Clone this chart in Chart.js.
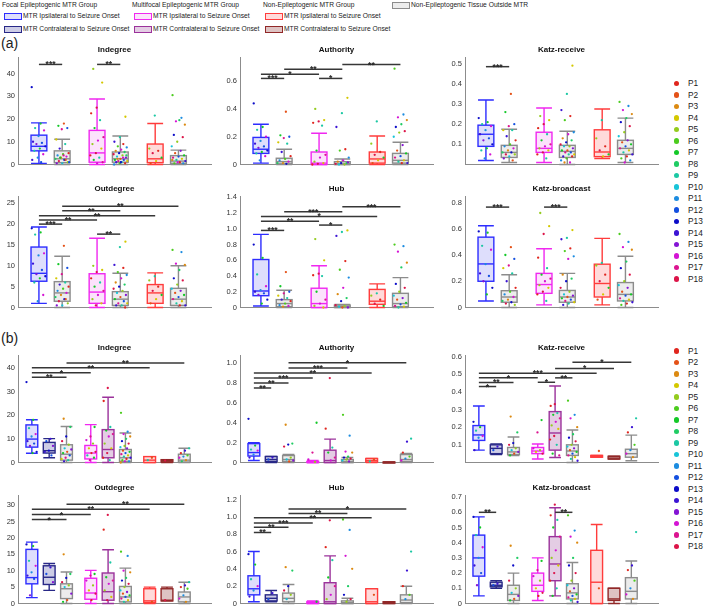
<!DOCTYPE html>
<html>
<head>
<meta charset="utf-8">
<script src="https://cdn.jsdelivr.net/npm/chart.js@4.4.1/dist/chart.umd.min.js"></script>
<style>
body { margin: 0; background: #fff; }
#fig { position: relative; width: 709px; height: 614px; font-family: "Liberation Sans", Arial, sans-serif; color: #222; overflow: hidden; }
.t { position: absolute; white-space: nowrap; font-size: 6.7px; line-height: 8px; }
.sw { position: absolute; width: 16px; height: 5px; border: 1px solid; }
.pl { position: absolute; font-size: 8.3px; line-height: 9px; white-space: nowrap; }
.dot { position: absolute; width: 5.5px; height: 5.5px; border-radius: 50%; }
.lab { position: absolute; font-size: 14px; line-height: 16px; }
canvas { position: absolute; }
</style>
</head>
<body>
<div id="fig">
  <div class="lab" style="left:1px;top:35px">(a)</div>
  <div class="lab" style="left:1px;top:330px">(b)</div>
</div>
<script>
// legend texts
const groupHeads = ['Focal Epileptogenic MTR Group', 'Multifocal Epileptogenic MTR Group', 'Non-Epileptogenic MTR Group'];
const sideLabels = ['MTR Ipsilateral to Seizure Onset', 'MTR Contralateral to Seizure Onset'];
const outsideLabel = 'Non-Epileptogenic Tissue Outside MTR';
const patients = ['P1','P2','P3','P4','P5','P6','P7','P8','P9','P10','P11','P12','P13','P14','P15','P16','P17','P18'];

// box order inside each layout
const aKinds = ['fi', 'out', 'mi', 'out', 'ni', 'out'];
const bKinds = ['fi', 'fc', 'out', 'mi', 'mc', 'out', 'ni', 'nc', 'out'];

// (a) Indegree
const aIndStats = [[0.5,6,8,12.9,18.3],[0,0.8,2.5,6,11.1],[0,1,5.1,15,28.8],[0,1,2.5,5.5,12.5],[0,0.8,2.5,9,18],[0,0.5,1.5,3.9,6.3]];
const aIndPts = [
  [34,18,16,15,12.5,10,9.5,9,8,7,6,4.5,3,2,1],
  [18,17,16,15.5,11,9,7,5,4.5,4,3.5,3,2.5,2,1.5,1,0.5,0.5,2,3,1,4],
  [42,36,25,22.5,19.5,16,12,10.5,9,7,5,4,3,2,1,0.5],
  [21,12,10,9,8,7.5,6.5,6,5.5,5,4.5,4,3.5,3,2.5,2,2,1.5,1.5,1,1,0.5,0.5,0,3,2.5,4,1],
  [21.5,7,6,5,3,1.5,0.5],
  [30.5,20.5,19,17.5,19.5,13,12,10,8,6,5,4,3.5,3,2.5,2,1.5,1,0.5,0.5,1,2]
];
const aIndSig = [[0,1,44,'***'],[2,3,44,'**']];

// (a) Authority
const aAutStats = [[0.01,0.08,0.11,0.195,0.29],[0,0.005,0.02,0.045,0.11],[0,0,0.01,0.09,0.225],[0,0,0.005,0.02,0.04],[0,0.01,0.04,0.09,0.205],[0,0.01,0.03,0.08,0.16]];
const aAutPts = [
  [0.44,0.27,0.25,0.2,0.17,0.15,0.13,0.12,0.1,0.09,0.08,0.06,0.03],
  [0.38,0.21,0.2,0.19,0.16,0.15,0.09,0.06,0.04,0.03,0.02,0.01,0.01,0.005],
  [0.4,0.32,0.31,0.3,0.28,0.1,0.07,0.05,0.02,0.01,0.005,0],
  [0.48,0.37,0.27,0.11,0.1,0.05,0.03,0.02,0.01,0.01,0.005,0,0,0.015],
  [0.31,0.15,0.09,0.07,0.05,0.03,0.01],
  [0.69,0.36,0.34,0.32,0.29,0.27,0.24,0.23,0.2,0.14,0.1,0.08,0.06,0.05,0.03,0.02,0.01,0.01]
];
const aAutSig = [[0,1,0.62,'***'],[0,2,0.65,'*'],[1,3,0.686,'**'],[2,3,0.62,'*'],[3,5,0.72,'**']];

// (a) Katz-receive
const aKrStats = [[0.02,0.09,0.15,0.195,0.32],[0.01,0.035,0.06,0.095,0.175],[0.01,0.06,0.08,0.16,0.28],[0,0.035,0.065,0.095,0.165],[0.03,0.039,0.062,0.172,0.275],[0.01,0.05,0.08,0.12,0.23]];
const aKrPts = [
  [0.23,0.21,0.2,0.19,0.17,0.15,0.13,0.12,0.1,0.08,0.07,0.05,0.03],
  [0.35,0.26,0.2,0.19,0.17,0.17,0.14,0.12,0.1,0.09,0.08,0.07,0.06,0.06,0.05,0.05,0.04,0.03,0.02],
  [0.24,0.22,0.2,0.18,0.15,0.12,0.1,0.09,0.08,0.07,0.06,0.05,0.03],
  [0.49,0.35,0.27,0.24,0.22,0.16,0.15,0.13,0.12,0.11,0.1,0.09,0.09,0.08,0.07,0.07,0.06,0.06,0.05,0.05,0.04,0.04,0.03,0.02,0.01,0.01],
  [0.22,0.13,0.09,0.07,0.05,0.04],
  [0.31,0.29,0.27,0.25,0.23,0.21,0.19,0.16,0.14,0.12,0.11,0.1,0.09,0.08,0.07,0.06,0.05,0.04,0.03,0.02,0.01]
];
const aKrSig = [[0,1,0.485,'***']];

// (a) Outdegree
const aOutStats = [[1,6.3,8.2,14.5,19.3],[0,1.5,3.5,6.2,12.3],[0,1,3.7,8.1,16.6],[0,0.5,2,3.8,8.2],[0,1,3.5,5.5,8.3],[0,0.5,2,4.6,10]];
const aOutPts = [
  [19,18,17.5,13,12.5,10.5,9,8,7.5,7,6,3,1.5],
  [14.8,10.4,9.5,8,7,6,5.5,5,4.5,4,3.5,3,2.5,2,1.5,1,0.5,0.5,2],
  [10,9,8.5,7,6,5,4,3,2,1,0.5],
  [15.8,14.5,10.2,9.5,8.5,7.8,7,6,5.5,5,4.5,4,3.5,3,2.5,2,1.5,1,1,0.5,0.5,0],
  [7.5,6.5,5,4,3,2,1],
  [13.8,13.3,10.5,10.2,9,7,6.5,5.5,4.5,4,3.5,3,2.5,2,1.5,1,0.5,0.5]
];
const aOutSig = [[0,1,20,'***'],[0,2,21,'**'],[0,4,22,'**'],[1,3,23.2,'**'],[1,5,24.3,'**'],[2,3,17.6,'**']];

// (a) Hub
const aHubStats = [[0.02,0.15,0.21,0.61,0.93],[0,0.01,0.05,0.1,0.22],[0,0,0.05,0.245,0.53],[0,0,0.01,0.03,0.04],[0,0.04,0.08,0.23,0.3],[0,0.01,0.05,0.18,0.38]];
const aHubPts = [
  [0.8,0.63,0.42,0.27,0.22,0.2,0.18,0.16,0.1,0.05],
  [0.45,0.27,0.2,0.18,0.15,0.12,0.1,0.08,0.05,0.03,0.02,0.01],
  [0.87,0.6,0.43,0.41,0.4,0.2,0.1,0.05,0.02,0],
  [0.98,0.96,0.91,0.59,0.48,0.38,0.25,0.17,0.12,0.08,0.03,0.02,0.01,0,0],
  [0.18,0.15,0.1,0.05,0.02],
  [0.8,0.78,0.71,0.57,0.51,0.3,0.25,0.2,0.15,0.12,0.1,0.06,0.04,0.02,0.01,0]
];
const aHubSig = [[0,1,0.98,'***'],[0,2,1.096,'**'],[0,4,1.157,'*'],[1,3,1.217,'***'],[2,3,1.048,'*'],[3,5,1.28,'***']];

// (a) Katz-broadcast
const aKbStats = [[0.05,0.2,0.332,0.536,0.623],[0,0.04,0.08,0.128,0.25],[0.02,0.108,0.175,0.26,0.448],[0,0.04,0.08,0.13,0.26],[0.02,0.08,0.183,0.33,0.527],[0,0.05,0.1,0.19,0.39]];
const aKbPts = [
  [0.58,0.57,0.47,0.44,0.33,0.26,0.24,0.2,0.15,0.1],
  [0.46,0.4,0.37,0.32,0.3,0.26,0.2,0.15,0.12,0.1,0.08,0.06,0.05,0.04,0.03,0.02],
  [0.72,0.62,0.56,0.38,0.3,0.25,0.22,0.2,0.17,0.15,0.12,0.1,0.05],
  [0.59,0.53,0.52,0.45,0.43,0.39,0.37,0.25,0.22,0.2,0.15,0.12,0.1,0.09,0.08,0.07,0.06,0.05,0.04,0.03,0.02],
  [0.34,0.32,0.25,0.2,0.15,0.1,0.06],
  [0.56,0.5,0.46,0.44,0.35,0.3,0.25,0.2,0.17,0.15,0.12,0.1,0.09,0.07,0.06,0.05,0.04,0.03,0.02]
];
const aKbSig = [[0,1,0.765,'***'],[2,3,0.765,'***']];

// (b) Indegree
const bIndStats = [[3.9,6.5,9.9,15.9,18.1],[2,4,5,8.5,10.1],[0,1,3.5,7.5,15.2],[0,1.5,4,7.2,16],[0,2,5.5,13.9,27.6],[0,0.5,2,5.5,12.5],[0,0,1,2.5,2.5],[0,0.3,0.8,1.2,1.2],[0,0.2,1,3.5,6]];
const bIndPts = [
  [34,18,14.5,12,11,9,8,7,4.5,4],
  [10,9,7,5,4.5,3],
  [18.5,15,11,9,7.5,6,5.5,4.5,4,3,2,1.5,1,0.5],
  [15,11,9.5,8,6,4.5,4,3,2,1],
  [31.5,26,15,13.5,12,11,8,6,4,2,1],
  [21,13,12,11,10,9,8,7,6.5,6,5,4.5,4,3.5,3,2.5,2,1.5,1,0.5,0.5,0],
  [2,1],
  [0.8],
  [6,5,4,3,2.5,2,1,0.5]
];
const bIndSig = [[0,2,36,'**'],[0,3,37.9,'*'],[0,6,40.1,'**'],[2,8,42.1,'**']];

// (b) Authority
const bAutStats = [[0.02,0.065,0.1,0.19,0.2],[0,0.01,0.03,0.06,0.06],[0,0.01,0.03,0.07,0.08],[0,0,0,0.01,0.02],[0,0,0.02,0.124,0.235],[0,0,0.01,0.03,0.05],[0,0.005,0.02,0.04,0.04],[0,0,0,0.005,0.005],[0,0.01,0.03,0.08,0.09]];
const bAutPts = [
  [0.44,0.17,0.13,0.12,0.08,0.05],
  [0.05,0.03],
  [0.38,0.19,0.18,0.16,0.05,0.03,0.02,0.01],
  [0.4,0.1,0.03,0.005],
  [0.85,0.34,0.15,0.1,0.05,0.02],
  [0.48,0.27,0.11,0.1,0.06,0.05,0.04,0.03,0.02,0.01],
  [0.03,0.01],
  [],
  [0.24,0.21,0.1,0.06,0.04,0.02]
];
const bAutSig = [[0,1,0.75,'**'],[0,2,0.8,'**'],[0,3,0.85,'***'],[0,6,0.9,'**'],[2,5,0.95,'***'],[2,8,1.003,'*']];

// (b) Katz-receive
const bKrStats = [[0.07,0.125,0.156,0.209,0.32],[0.045,0.05,0.08,0.1,0.105],[0.04,0.045,0.06,0.085,0.144],[0.02,0.05,0.065,0.085,0.105],[0.028,0.07,0.167,0.288,0.433],[0,0.04,0.065,0.1,0.184],[0.03,0.03,0.035,0.04,0.04],[0.02,0.02,0.025,0.035,0.035],[0.01,0.03,0.05,0.075,0.155]];
const bKrPts = [
  [0.23,0.2,0.18,0.15,0.14,0.07],
  [0.09,0.07],
  [0.26,0.17,0.11,0.1,0.08,0.07,0.06,0.05,0.04],
  [0.24,0.17,0.08,0.07,0.06,0.05],
  [0.33,0.32,0.28,0.27,0.25,0.23,0.21,0.19,0.15,0.13,0.1,0.05,0.04],
  [0.35,0.27,0.25,0.2,0.16,0.14,0.12,0.1,0.09,0.08,0.07,0.06,0.05,0.04,0.03,0.02,0.01],
  [0.065],
  [],
  [0.25,0.2,0.17,0.1,0.07,0.05,0.03]
];
const bKrSig = [[0,1,0.43,'*'],[0,2,0.453,'**'],[0,3,0.479,'*'],[0,6,0.505,'***'],[3,4,0.454,'*'],[4,5,0.479,'**'],[4,7,0.532,'*'],[5,8,0.568,'*']];

// (b) Outdegree
const bOutStats = [[1.8,6,7.9,16.5,18.7],[4,5.8,8,11.5,12.2],[0,1.5,4.5,6,9.6],[0,1.3,3.2,7.7,10.1],[0,1,3.6,9.3,16.4],[0,0.5,2,5.2,10.8],[0,0.3,0.8,4.5,5],[0.8,0.8,1,4.5,5],[0,0.5,2,3.5,6.5]];
const bOutPts = [
  [18,17.5,13,11.5,9.5,8.5,7.5,2.5],
  [11,9,6.5],
  [15,9,7.8,6.5,5.5,5,3,1,0.5],
  [9,8.5,7,5.5,4,3,1],
  [27,22.5,12.5,8,7,6,4,2,1],
  [15.8,14.5,10,9.5,7.8,7,6,5,4,3.5,3,2.5,2,1.5,1,0.5],
  [0.5],
  [1],
  [6.5,5.5,5,4.5,2.5,1.5,0.5]
];
const bOutSig = [[0,2,25.6,'*'],[0,3,27.1,'*'],[0,6,28.7,'**'],[2,8,30.3,'**']];

// (b) Hub
const bHubStats = [[0.02,0.1,0.17,0.32,0.6],[0.02,0.03,0.06,0.1,0.15],[0,0.02,0.06,0.12,0.22],[0,0,0.01,0.02,0.03],[0,0,0.02,0.24,0.55],[0,0,0.01,0.03,0.06],[0,0,0.02,0.17,0.17],[0,0,0.01,0.02,0.02],[0,0.01,0.04,0.1,0.2]];
const bHubPts = [
  [0.57,0.45,0.28,0.2,0.15,0.08],
  [0.12,0.05],
  [0.42,0.38,0.2,0.15,0.1,0.05],
  [0.02],
  [0.96,0.65,0.5,0.3,0.2,0.1,0.05],
  [0.97,0.85,0.55,0.4,0.2,0.1,0.05,0.02],
  [0.1],
  [],
  [0.6,0.38,0.2,0.1,0.05]
];
const bHubSig = [[0,1,0.82,'**'],[0,2,0.88,'**'],[0,3,0.93,'***'],[0,6,0.99,'**'],[2,5,1.04,'**'],[2,8,1.09,'*']];

// (b) Katz-broadcast
const bKbStats = [[0.05,0.18,0.3,0.45,0.57],[0.1,0.11,0.12,0.14,0.15],[0,0.02,0.06,0.12,0.2],[0.02,0.08,0.12,0.2,0.3],[0.05,0.15,0.26,0.44,0.63],[0,0.03,0.07,0.13,0.27],[0,0,0.14,0.35,0.52],[0,0.02,0.03,0.1,0.1],[0,0.03,0.08,0.17,0.28]];
const bKbPts = [
  [0.57,0.5,0.45,0.37,0.3,0.25,0.2,0.12],
  [0.13,0.12],
  [0.38,0.3,0.25,0.15,0.1,0.07,0.05,0.03,0.02],
  [0.28,0.22,0.18,0.15,0.1,0.07,0.05],
  [0.65,0.58,0.55,0.5,0.44,0.35,0.3,0.25,0.2,0.15,0.1,0.05],
  [0.58,0.48,0.44,0.4,0.3,0.25,0.2,0.15,0.12,0.1,0.08,0.06,0.05,0.04,0.03,0.02,0.01],
  [0.1],
  [],
  [0.47,0.25,0.22,0.15,0.1,0.06,0.03]
];
const bKbSig = [[0,1,0.6,'**'],[4,5,0.6,'**']];

// ---- styling ----
const FONT = '"Liberation Sans", Arial, sans-serif';
Chart.defaults.font.family = FONT;

const kindStyle = {
  fi:  { edge: 'rgb(45,45,255)',   fill: 'rgb(222,222,252)' },
  fc:  { edge: 'rgb(40,40,135)',   fill: 'rgb(205,205,230)' },
  mi:  { edge: 'rgb(240,40,240)',  fill: 'rgb(252,226,252)' },
  mc:  { edge: 'rgb(155,50,155)',  fill: 'rgb(228,205,228)' },
  ni:  { edge: 'rgb(255,60,60)',   fill: 'rgb(255,218,218)' },
  nc:  { edge: 'rgb(145,40,40)',   fill: 'rgb(222,195,195)' },
  out: { edge: 'rgb(140,140,140)', fill: 'rgb(236,236,236)' }
};
const patientColors = ['#e0261e','#e45218','#dc8a12','#d4c800','#94cc1e','#4ccc1e','#14c828','#20cc64','#1cc8a4','#18c4d8','#1c8ce0','#1450e0','#0c0cc8','#3c14d4','#8414d4','#d414d4','#dc1490','#dc1448'];
const kindPatients = {
  fi: [12,13,8,14,10,6,11,15], fc: [12,13,11,14],
  mi: [16,0,4,6,17,15,8,3], mc: [16,0,4,6,17,15,8,3],
  ni: [0,3,4,6,8,17,1], nc: [0,3,4,17],
  out: [0,1,2,3,4,5,6,7,8,9,10,11,12,13,14,15,16,17]
};

const colX = [18, 240, 465];
const plotW = 195;
const rowTop = { a0: 57, a1: 196, b0: 355, b1: 495 };
const rowBot = { a0: 170, a1: 313, b0: 468, b1: 609 };
const layouts = {
  a: { kinds: aKinds, groupSize: 2, groupStep: 2.5, xmin: 0.1, xmax: 8.4, boxHalf: 0.34 },
  b: { kinds: bKinds, groupSize: 3, groupStep: 3.4, xmin: 0.2, xmax: 11.34, boxHalf: 0.34 }
};

const panels = [
  { title: 'Indegree',       lay: 'a', col: 0, row: 'a0', ymax: 47,    step: 10,  stats: aIndStats, pts: aIndPts, sig: aIndSig },
  { title: 'Authority',      lay: 'a', col: 1, row: 'a0', ymax: 0.77,  step: 0.2, stats: aAutStats, pts: aAutPts, sig: aAutSig },
  { title: 'Katz-receive',   lay: 'a', col: 2, row: 'a0', ymax: 0.53,  step: 0.1, stats: aKrStats,  pts: aKrPts,  sig: aKrSig, hideZero: true },
  { title: 'Outdegree',      lay: 'a', col: 0, row: 'a1', ymax: 26.6,  step: 5,   stats: aOutStats, pts: aOutPts, sig: aOutSig },
  { title: 'Hub',            lay: 'a', col: 1, row: 'a1', ymax: 1.41,  step: 0.2, stats: aHubStats, pts: aHubPts, sig: aHubSig },
  { title: 'Katz-broadcast', lay: 'a', col: 2, row: 'a1', ymax: 0.845, step: 0.2, stats: aKbStats,  pts: aKbPts,  sig: aKbSig },
  { title: 'Indegree',       lay: 'b', col: 0, row: 'b0', ymax: 45.2,  step: 10,  stats: bIndStats, pts: bIndPts, sig: bIndSig },
  { title: 'Authority',      lay: 'b', col: 1, row: 'b0', ymax: 1.076, step: 0.2, stats: bAutStats, pts: bAutPts, sig: bAutSig },
  { title: 'Katz-receive',   lay: 'b', col: 2, row: 'b0', ymax: 0.605, step: 0.1, stats: bKrStats,  pts: bKrPts,  sig: bKrSig, hideZero: true },
  { title: 'Outdegree',      lay: 'b', col: 0, row: 'b1', ymax: 32.9,  step: 5,   stats: bOutStats, pts: bOutPts, sig: bOutSig },
  { title: 'Hub',            lay: 'b', col: 1, row: 'b1', ymax: 1.246, step: 0.2, stats: bHubStats, pts: bHubPts, sig: bHubSig },
  { title: 'Katz-broadcast', lay: 'b', col: 2, row: 'b1', ymax: 0.71,  step: 0.1, stats: bKbStats,  pts: bKbPts,  sig: bKbSig }
];

const fig = document.getElementById('fig');

function addDiv(cls, left, top, html, style) {
  const d = document.createElement('div');
  d.className = cls;
  d.style.left = left + 'px';
  d.style.top = top + 'px';
  if (html) d.textContent = html;
  if (style) Object.assign(d.style, style);
  fig.appendChild(d);
  return d;
}

// top legend
const legKinds = [['fi', 'fc'], ['mi', 'mc'], ['ni', 'nc']];
const legX = [2, 132, 263];
groupHeads.forEach((g, gi) => {
  addDiv('t', legX[gi], 1, g);
  sideLabels.forEach((s, si) => {
    const st = kindStyle[legKinds[gi][si]];
    addDiv('sw', legX[gi] + 2, 13 + si * 13, '', { borderColor: st.edge, background: st.fill });
    addDiv('t', legX[gi] + 21, 12 + si * 13, s);
  });
});
addDiv('sw', 392, 2, '', { borderColor: kindStyle.out.edge, background: kindStyle.out.fill });
addDiv('t', 411, 1, outsideLabel);

// patient legends
[83.5, 351].forEach(y0 => {
  patients.forEach((p, i) => {
    const y = y0 + i * 11.5;
    addDiv('dot', 673.5, y - 2.75, '', { background: patientColors[i] });
    addDiv('pl', 688, y - 4.5, p);
  });
});

function jitter(i) {
  return (((i * 0.618034) % 1) - 0.5) * 0.62;
}

function boxPositions(lay) {
  const L = layouts[lay];
  return L.kinds.map((k, i) => 1 + Math.floor(i / L.groupSize) * L.groupStep + (i % L.groupSize));
}

function makeBoxPlugin(cfg, pos) {
  const L = layouts[cfg.lay];
  return {
    id: 'boxes',
    beforeDatasetsDraw(chart) {
      const { ctx, scales: { x, y } } = chart;
      ctx.save();
      cfg.stats.forEach((s, i) => {
        const st = kindStyle[L.kinds[i]];
        const xl = x.getPixelForValue(pos[i] - L.boxHalf);
        const xr = x.getPixelForValue(pos[i] + L.boxHalf);
        const xc = x.getPixelForValue(pos[i]);
        const [lo, q1, med, q3, hi] = s.map(v => y.getPixelForValue(v));
        ctx.strokeStyle = st.edge;
        ctx.lineWidth = 1.4;
        // whiskers
        ctx.beginPath();
        ctx.moveTo(xc, q3); ctx.lineTo(xc, hi);
        ctx.moveTo(xc, q1); ctx.lineTo(xc, lo);
        ctx.moveTo(xl, hi); ctx.lineTo(xr, hi);
        ctx.moveTo(xl, lo); ctx.lineTo(xr, lo);
        ctx.stroke();
        // box
        ctx.fillStyle = st.fill;
        ctx.fillRect(xl, q3, xr - xl, Math.max(q1 - q3, 1));
        ctx.strokeRect(xl, q3, xr - xl, Math.max(q1 - q3, 1));
        ctx.beginPath();
        ctx.moveTo(xl, med); ctx.lineTo(xr, med);
        ctx.stroke();
      });
      ctx.restore();
    },
    afterDatasetsDraw(chart) {
      const { ctx, scales: { x, y } } = chart;
      ctx.save();
      ctx.strokeStyle = 'rgb(55,55,55)';
      ctx.fillStyle = 'rgb(40,40,40)';
      ctx.lineWidth = 1.5;
      ctx.font = 'bold 8.5px ' + FONT;
      ctx.textAlign = 'center';
      ctx.textBaseline = 'alphabetic';
      cfg.sig.forEach(([a, b, v, label]) => {
        const x1 = x.getPixelForValue(pos[a]);
        const x2 = x.getPixelForValue(pos[b]);
        const yy = y.getPixelForValue(v);
        ctx.beginPath();
        ctx.moveTo(x1, yy); ctx.lineTo(x2, yy);
        ctx.stroke();
        ctx.fillText(label, (x1 + x2) / 2, yy + 3);
      });
      ctx.restore();
    }
  };
}

panels.forEach(cfg => {
  const L = layouts[cfg.lay];
  const pos = boxPositions(cfg.lay);
  const titleH = 12;
  const left = colX[cfg.col] - 32;
  const top = rowTop[cfg.row] - titleH;
  const canvas = document.createElement('canvas');
  canvas.width = 32 + plotW + 2;
  canvas.height = titleH + (rowBot[cfg.row] - rowTop[cfg.row]) + 2;
  canvas.style.left = left + 'px';
  canvas.style.top = top + 'px';
  fig.appendChild(canvas);

  const datasets = cfg.pts.map((vals, bi) => {
    const pal = kindPatients[L.kinds[bi]];
    return {
      data: vals.map((v, i) => ({ x: pos[bi] + jitter(i + bi), y: v })),
      pointRadius: 1.15,
      pointBorderWidth: 0,
      pointBackgroundColor: vals.map((v, i) => patientColors[pal[(i * 5 + bi) % pal.length]]),
      showLine: false,
      clip: false
    };
  });

  new Chart(canvas, {
    type: 'scatter',
    data: { datasets },
    options: {
      responsive: false,
      animation: false,
      events: [],
      layout: { padding: { left: 0, right: 2, top: 0, bottom: 2 } },
      plugins: {
        legend: { display: false },
        tooltip: { enabled: false },
        title: {
          display: true, text: cfg.title, fullSize: false, color: '#111',
          font: { size: 8, weight: 'bold' }, padding: { top: 0, bottom: 3 }
        }
      },
      scales: {
        x: {
          type: 'linear', min: L.xmin, max: L.xmax,
          grid: { display: false },
          ticks: { display: false },
          border: { color: 'rgb(140,140,140)', width: 1 },
          afterFit(s) { s.height = 0; }
        },
        y: {
          min: 0, max: cfg.ymax,
          grid: { display: false, drawTicks: false },
          border: { color: 'rgb(140,140,140)', width: 1 },
          ticks: {
            stepSize: cfg.step, includeBounds: false, color: '#333', padding: 3,
            font: { size: 7.5 },
            callback: function (v, i, t) {
              if (cfg.hideZero && v === 0) return '';
              return Chart.Ticks.formatters.numeric.call(this, v, i, t);
            }
          },
          afterFit(s) { s.width = 32; }
        }
      }
    },
    plugins: [makeBoxPlugin(cfg, pos)]
  });
});
</script>
</body>
</html>
